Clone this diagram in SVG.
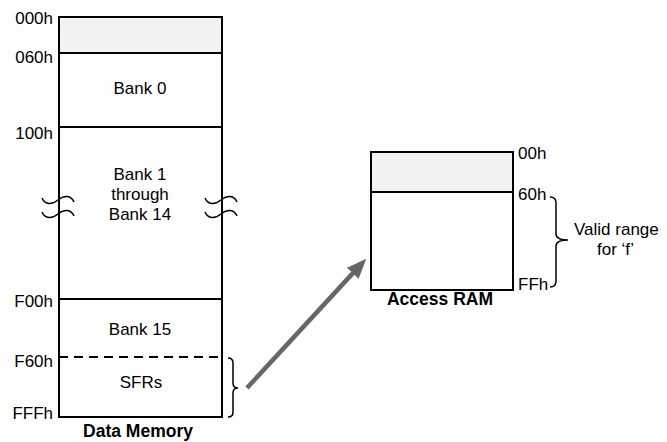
<svg xmlns="http://www.w3.org/2000/svg" width="667" height="442" viewBox="0 0 667 442">
<style>
  .box{fill:#ffffff;stroke:#000;stroke-width:2}
  .band{fill:#f2f2f2;stroke:none}
  .div{stroke:#000;stroke-width:2;fill:none}
  .dash{stroke:#000;stroke-width:2;stroke-dasharray:9 6;fill:none}
  .brace{stroke:#000;stroke-width:1.5;fill:none}
  .brk{stroke:#000;stroke-width:1.5;fill:none}
  .t{font-family:"Liberation Sans",Arial,sans-serif;font-size:17px;fill:#000}
  .m{text-anchor:middle}
  .e{text-anchor:end}
  .b{font-weight:bold;font-size:17.5px}
  .arrow{stroke:#666;stroke-width:4.5;fill:none}
</style>
<defs>
  <marker id="ah" viewBox="0 0 20 16" refX="1" refY="8" markerWidth="20" markerHeight="16" markerUnits="userSpaceOnUse" orient="auto">
    <path d="M0,0 L20,8 L0,16 z" fill="#666"/>
  </marker>
</defs>

<g id="data-memory">
  <rect class="box" x="59" y="17" width="163" height="400"/>
  <rect class="band" x="60" y="18" width="161" height="35"/>
  <line class="div" x1="59" y1="53" x2="222" y2="53"/>
  <line class="div" x1="59" y1="127" x2="222" y2="127"/>
  <line class="div" x1="59" y1="299" x2="222" y2="299"/>
  <line class="dash" x1="59" y1="357" x2="222" y2="357"/>
  <path class="brk" d="M42,198 C45,205 52,205 58,200 C64,195 71,195 74,202"/>
  <path class="brk" d="M42,212 C45,219 52,219 58,214 C64,209 71,209 74,216"/>
  <path class="brk" d="M205,198 C208,205 215,205 221,200 C227,195 234,195 237,202"/>
  <path class="brk" d="M205,212 C208,219 215,219 221,214 C227,209 234,209 237,216"/>
  <text class="t e" x="53" y="24">000h</text>
  <text class="t e" x="53" y="63">060h</text>
  <text class="t e" x="53" y="139">100h</text>
  <text class="t e" x="53" y="307">F00h</text>
  <text class="t e" x="53" y="367">F60h</text>
  <text class="t e" x="53" y="419">FFFh</text>
  <text class="t m" x="140" y="94">Bank 0</text>
  <text class="t m" x="140" y="180">Bank 1</text>
  <text class="t m" x="140" y="200">through</text>
  <text class="t m" x="140" y="220">Bank 14</text>
  <text class="t m" x="140" y="335">Bank 15</text>
  <text class="t m" x="141" y="388">SFRs</text>
  <text class="t m b" x="138" y="437">Data Memory</text>
  <path class="brace" d="M228,358 Q233,358 233,363 L233,383 Q233,388 238,388 Q233,388 233,393 L233,412 Q233,417 228,417"/>
</g>

<g id="access-ram">
  <rect class="box" x="371" y="152" width="142" height="138"/>
  <rect class="band" x="372" y="153" width="140" height="39"/>
  <line class="div" x1="371" y1="192" x2="513" y2="192"/>
  <text class="t" x="518" y="159">00h</text>
  <text class="t" x="518" y="200">60h</text>
  <text class="t" x="518" y="290">FFh</text>
  <text class="t m b" x="440" y="305">Access RAM</text>
  <path class="brace" d="M550,197 Q556,197 556,203 L556,234 Q556,240 568,240 Q556,240 556,246 L556,281 Q556,287 550,287"/>
  <text class="t" x="574" y="235">Valid range</text>
  <text class="t" x="597" y="255">for ‘f’</text>
</g>

<g id="connectors">
  <line class="arrow" x1="247" y1="388" x2="353.4" y2="272.6" marker-end="url(#ah)"/>
</g>
</svg>
